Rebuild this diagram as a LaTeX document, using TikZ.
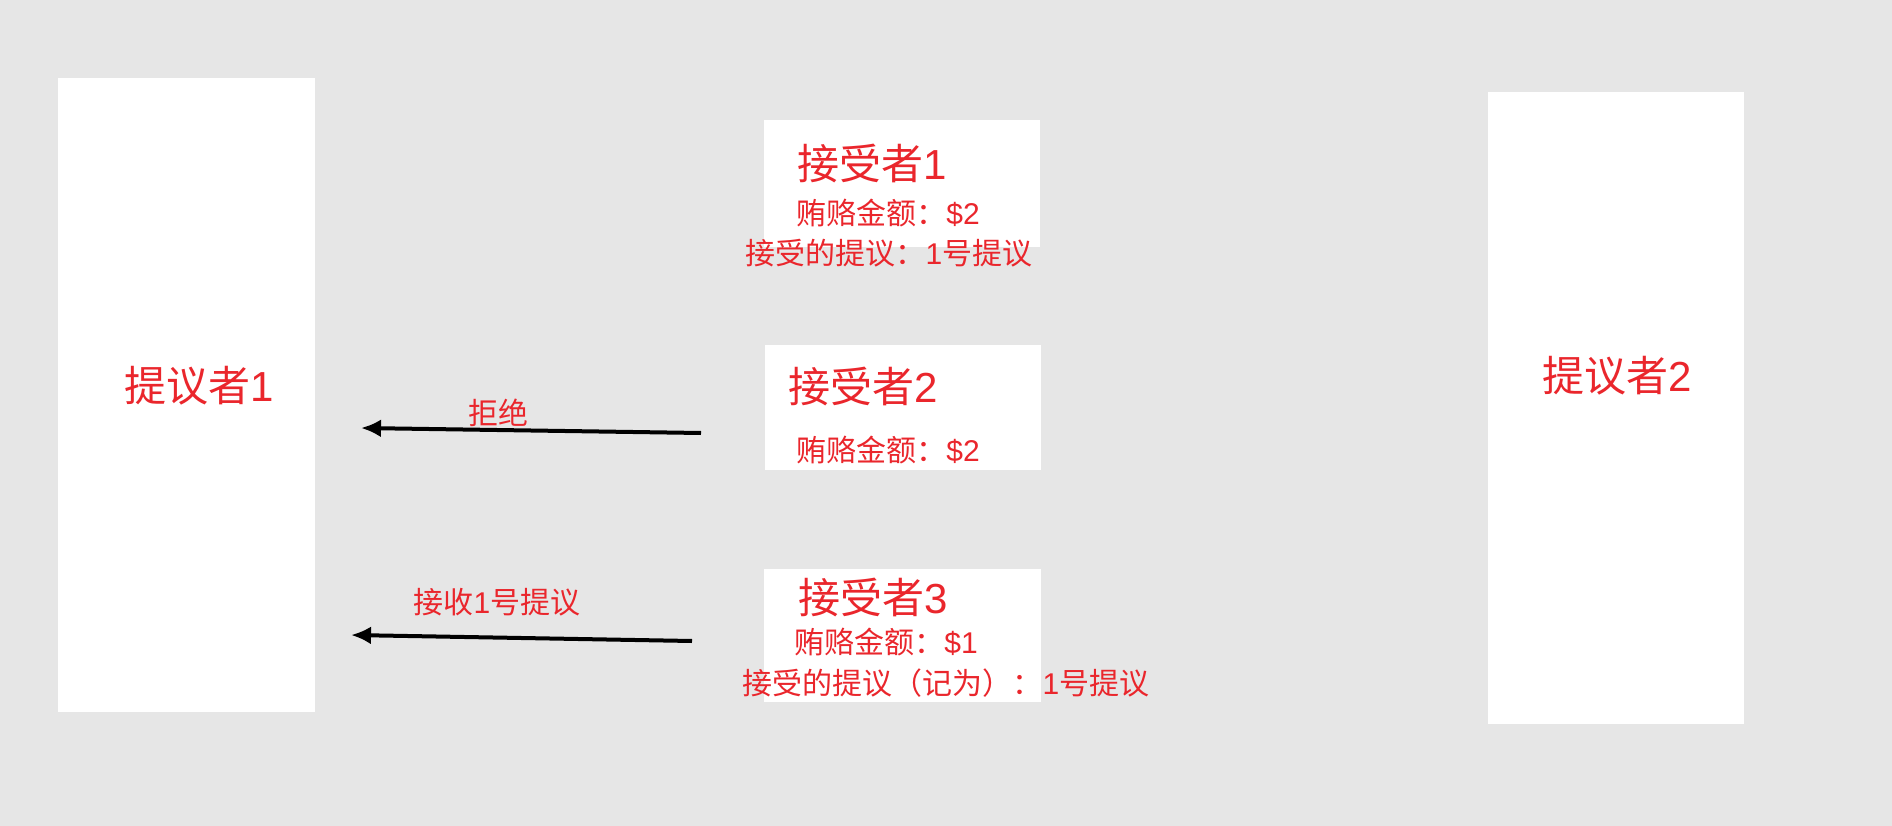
\documentclass[tikz,border=0pt]{standalone}
\usepackage{fontspec}
\newfontfamily\cjk{Noto Sans CJK SC}
\newfontfamily\lat{Liberation Sans}
\usepackage{xcolor}
\usepackage{tikz}
\usetikzlibrary{arrows.meta}
\definecolor{bgGray}{RGB}{230,230,230}
\definecolor{txtRed}{RGB}{234,38,44}
\newcommand{\num}[1]{{\lat #1}}

\begin{document}
\begin{tikzpicture}[x=1pt,y=-1pt,>=Latex,
    box/.style={fill=white,draw=none,inner sep=0pt,anchor=north west},
    title/.style={font=\cjk\fontsize{42}{46}\selectfont,text=txtRed,inner sep=0pt},
    info/.style={font=\cjk\fontsize{30}{34}\selectfont,text=txtRed,inner sep=0pt},
    reply/.style={line width=4pt,-{Latex[length=20pt,width=18pt]}}]
    \fill[bgGray] (0,0) rectangle (1892,826);
    \useasboundingbox (0,0) rectangle (1892,826);
    \node[box,minimum width=257pt,minimum height=634pt] (prop1) at (58,78) {};
    \node[box,minimum width=256pt,minimum height=632pt] (prop2) at (1488,92) {};
    \node[box,minimum width=276pt,minimum height=127pt] (recv1) at (764,120) {};
    \node[box,minimum width=276pt,minimum height=125pt] (recv2) at (765,345) {};
    \node[box,minimum width=277pt,minimum height=133pt] (recv3) at (764,569) {};
    \node[title] (prop1t) at (199,386) {提议者\num{1}};
    \node[title] (prop2t) at (1617,376) {提议者\num{2}};
    \node[title] (recv1t) at (872,163) {接受者\num{1}};
    \node[info] (recv1a) at (888,213) {贿赂金额：\num{\$2}};
    \node[info] (recv1b) at (889,253) {接受的提议：\num{1}号提议};
    \node[title] (recv2t) at (863,386) {接受者\num{2}};
    \node[info] (recv2a) at (888,450) {贿赂金额：\num{\$2}};
    \node[title] (recv3t) at (873,597) {接受者\num{3}};
    \node[info] (recv3a) at (886,642) {贿赂金额：\num{\$1}};
    \node[info] (recv3b) at (946,683) {接受的提议（记为）：\num{1}号提议};
    \coordinate (rejFrom) at (701,433);
    \coordinate (rejTo) at (361,428);
    \coordinate (accFrom) at (692,641);
    \coordinate (accTo) at (351,635);
    \draw[reply] (rejFrom) -- (rejTo);
    \draw[reply] (accFrom) -- (accTo);
    \node[info] (rejLbl) at (498,413) {拒绝};
    \node[info] (accLbl) at (497,602) {接收\num{1}号提议};
\end{tikzpicture}
\end{document}
